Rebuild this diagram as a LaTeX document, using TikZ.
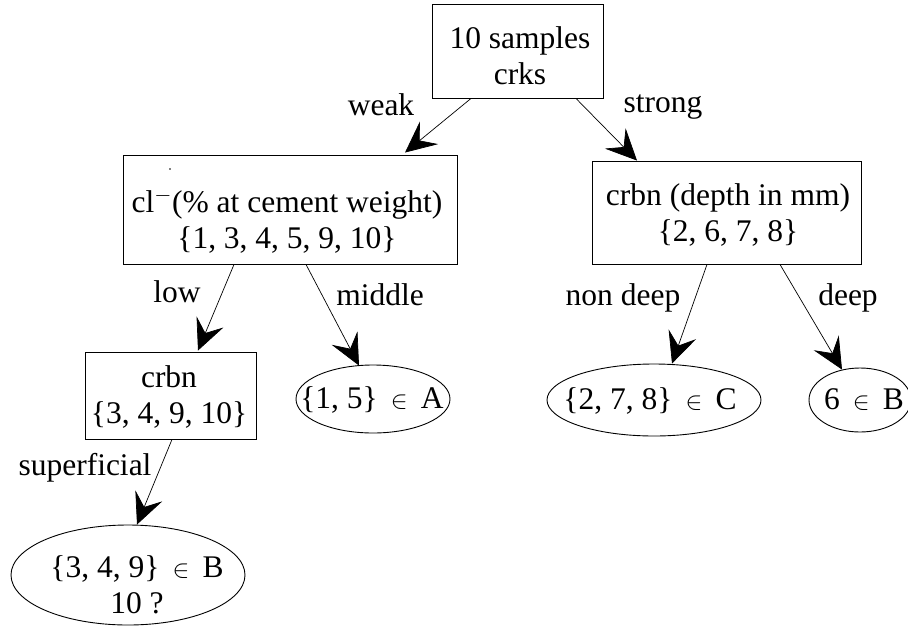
\RequirePackage{fix-cm}
\documentclass[tikz,border=0pt]{standalone}
\usepackage{fontspec}
\usepackage{graphicx}
\setmainfont{Liberation Serif}
\usetikzlibrary{arrows.meta,calc,shapes.geometric}
\newcommand{\elt}{\,\scalebox{0.8}{$\in$}\,}
\begin{document}
\begin{tikzpicture}[x=1pt,y=-1pt,
  boxst/.style={draw, rectangle, inner sep=0pt, line width=0.9pt},
  ellst/.style={draw, ellipse, inner sep=0pt, line width=0.9pt},
  txt/.style={font=\fontsize{31.5}{36}\selectfont, align=center, inner sep=0pt},
  lbl/.style={font=\fontsize{31.5}{36}\selectfont, inner sep=0pt, anchor=base},
  conn/.style={line width=0.7pt, -{Stealth[length=31pt,width=29pt,inset=12pt]}}]
\useasboundingbox (0,0) rectangle (908,625);
\clip (0,0) rectangle (908,625);
% boxes
\node[boxst, minimum width=171pt, minimum height=94pt] (root) at (517.5,51) {};
\node[txt] (rootT) at (520,55.6) {10 samples\\crks};
\node[boxst, minimum width=334pt, minimum height=109pt] (cl) at (290,209.5) {};
\node[txt] (clT) at (287,221) {cl$^{-}$(\% at cement weight)\\\{1, 3, 4, 5, 9, 10\}};
\node[boxst, minimum width=269pt, minimum height=103pt] (crR) at (726.5,212.5) {};
\node[txt] (crRT) at (728,215) {crbn (depth in mm)\\\{2, 6, 7, 8\}};
\node[boxst, minimum width=171pt, minimum height=87pt] (crL) at (170.5,395.5) {};
\node[txt] (crLT) at (169,397.4) {crbn\\\{3, 4, 9, 10\}};
% ellipses
\node[ellst, minimum width=154pt, minimum height=68pt] (eA) at (373,399) {};
\node[lbl] (eAT) at (372,408) {\{1, 5\} \elt{} A};
\node[ellst, minimum width=214pt, minimum height=72pt] (eC) at (654,400) {};
\node[lbl] (eCT) at (650,409) {\{2, 7, 8\} \elt{} C};
\node[ellst, minimum width=102pt, minimum height=64pt] (eB) at (860,400) {};
\node[lbl] (eBT) at (864,409) {6 \elt{} B};
\node[ellst, minimum width=234pt, minimum height=100pt] (eD) at (128,575) {};
\node[txt] (eDT) at (137,584.4) {\{3, 4, 9\} \elt{} B\\10 ?};
% labels
\node[lbl] (lw) at (381,115) {weak};
\node[lbl] (ls) at (663,112) {strong};
\node[lbl] (ll) at (177,302) {low};
\node[lbl] (lm) at (380,305) {middle};
\node[lbl] (lnd) at (623,305) {non deep};
\node[lbl] (ld) at (848,305) {deep};
\node[lbl] (lsu) at (85,475) {superficial};
% connectors
\draw[conn] ($(root.south)+(-46.5,0)$) -- ($(cl.north)+(115,-2)$);
\draw[conn] ($(root.south)+(58.5,0)$) -- ($(crR.north)+(-89.5,0)$);
\draw[conn] ($(cl.south)+(-56,0)$) -- ($(crL.north)+(27.5,-1)$);
\draw[conn] ($(cl.south)+(16,0)$) -- ($(eA.north)+(-14,1)$);
\draw[conn] ($(crR.south)+(-19.5,0)$) -- ($(eC.north)+(18,0)$);
\draw[conn] ($(crR.south)+(53.5,0)$) -- ($(eB.north)+(-18,2)$);
\draw[conn] ($(crL.south)+(1.5,0)$) -- ($(eD.north)+(9,0)$);
% stray dot
\fill (170,169) circle (0.9pt);
\end{tikzpicture}
\end{document}
